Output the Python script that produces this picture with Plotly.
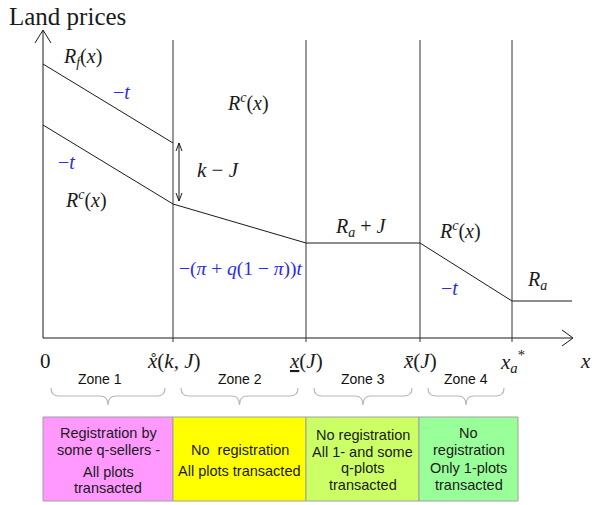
import plotly.graph_objects as go

# Distance from the centre (x) and land price (y), in drawing units
edges = [0, 130, 263, 377, 469]            # 0, x̊(k,J), x̲(J), x̄(J), x*_a
edge_labels = ["0",
               "<i>x\u030a</i>(<i>k</i>, <i>J</i>)",
               "<u><i>x</i></u>(<i>J</i>)",
               "<i>x\u0304</i>(<i>J</i>)",
               "<i>x</i><sub><i>a</i></sub><sup>*</sup>"]
x_max = 530
y_max = 308

# Bid-rent schedules
rf_x = [0, 130]
rf_y = [274, 195]
rc_x = [0, 130, 263, 377, 469, 529]
rc_y = [213, 134, 95, 95, 37, 37]

zone_names = ["Zone 1", "Zone 2", "Zone 3", "Zone 4"]
box_edges = [0, 130, 263, 376, 475]
box_colors = ["#FF99FF", "#FFFF00", "#CCFF66", "#99FF99"]
box_lines = [
    ["Registration by", "some q-sellers -", "All plots", "transacted"],
    ["No  registration", "All plots transacted"],
    ["No registration", "All 1- and some", "q-plots", "transacted"],
    ["No", "registration", "Only 1-plots", "transacted"],
]

SERIF = "Liberation Serif"
SANS = "Liberation Sans"
INK = "#1a1a1a"
BLUE = "#2a2af0"

fig = go.Figure()

# price schedules
fig.add_trace(go.Scatter(x=rf_x, y=rf_y, mode="lines",
                         line=dict(color=INK, width=1), hoverinfo="skip"))
fig.add_trace(go.Scatter(x=rc_x, y=rc_y, mode="lines",
                         line=dict(color=INK, width=1), hoverinfo="skip"))

shapes = []


def seg(x0, y0, x1, y1, color=INK, width=1):
    shapes.append(dict(type="line", xref="x", yref="y", x0=x0, y0=y0,
                       x1=x1, y1=y1, line=dict(color=color, width=width)))


# axes with open arrowheads
seg(0, 0, 0, y_max)
seg(0, y_max, -8, y_max - 13)
seg(0, y_max, 8, y_max - 13)
seg(0, 0, x_max, 0)
seg(x_max, 0, x_max - 11, 8)
seg(x_max, 0, x_max - 11, -8)

# zone boundaries
for e in edges[1:]:
    seg(e, -4, e, 298, color="#333333")

# k - J gap arrow
ax = rf_x[1] + 6
seg(ax, rf_y[1], ax, rc_y[1] + 3)
seg(ax, rf_y[1], ax - 3, rf_y[1] - 8)
seg(ax, rf_y[1], ax + 3, rf_y[1] - 8)
seg(ax, rc_y[1] + 3, ax - 3, rc_y[1] + 11)
seg(ax, rc_y[1] + 3, ax + 3, rc_y[1] + 11)

# braces under each zone
top, arm, tip, r = -50, -58, -67, 8
for i in range(4):
    L, R = edges[i] + 8, edges[i + 1] - 8
    M = (edges[i] + edges[i + 1]) / 2
    path = (f"M{L},{top} Q{L},{arm} {L + r},{arm} L{M - r},{arm} "
            f"Q{M},{arm} {M},{tip} Q{M},{arm} {M + r},{arm} "
            f"L{R - r},{arm} Q{R},{arm} {R},{top}")
    shapes.append(dict(type="path", xref="x", yref="y", path=path,
                       line=dict(color="#b8b8b8", width=1.2)))

# coloured regime boxes
for i in range(4):
    shapes.append(dict(type="rect", xref="x", yref="y",
                       x0=box_edges[i], x1=box_edges[i + 1], y0=-79, y1=-163,
                       fillcolor=box_colors[i],
                       line=dict(color="#a0a0a0", width=1), layer="below"))

ann = []


def label(x, y, text, size=20, color=INK, family=SERIF, xanchor="center"):
    ann.append(dict(x=x, y=y, xref="x", yref="y", text=text, showarrow=False,
                    font=dict(family=family, size=size, color=color),
                    xanchor=xanchor, yanchor="middle"))


label(-36, 322, "Land prices", size=25, xanchor="left")
label(39, 281, "<i>R</i><sub><i>f</i></sub>(<i>x</i>)", size=20)
label(78, 246, "\u2212<i>t</i>", size=20, color=BLUE)
label(23, 176, "\u2212<i>t</i>", size=20, color=BLUE)
label(43, 139, "<i>R</i><sup><i>c</i></sup>(<i>x</i>)", size=20)
label(205, 236, "<i>R</i><sup><i>c</i></sup>(<i>x</i>)", size=20)
label(175, 168, "<i>k</i> \u2212 <i>J</i>", size=21)
label(198, 69, "\u2212(<i>\u03c0</i> + <i>q</i>(1 \u2212 <i>\u03c0</i>))<i>t</i>",
      size=19.5, color=BLUE)
label(318, 111, "<i>R</i><sub><i>a</i></sub> + <i>J</i>", size=20)
label(417, 108, "<i>R</i><sup><i>c</i></sup>(<i>x</i>)", size=20)
label(406, 50, "\u2212<i>t</i>", size=20, color=BLUE)
label(494, 58, "<i>R</i><sub><i>a</i></sub>", size=20)

# tick labels along the distance axis
for e, t in zip(edges, edge_labels):
    label(e + (2 if e == 0 else 0), -23, t, size=21)
label(542, -23, "<i>x</i>", size=21)

# zone captions
for i, z in enumerate(zone_names):
    label((edges[i] + edges[i + 1]) / 2 - (8 if i == 0 else 0), -41, z,
          size=14, family=SANS, color="#111")

# box texts, one annotation per line
line_y = [
    [-95, -112, -134, -150],
    [-112, -133],
    [-97, -114, -130, -147],
    [-95, -112, -130, -147],
]
for i, lines in enumerate(box_lines):
    cx = (box_edges[i] + box_edges[i + 1]) / 2
    for txt, yy in zip(lines, line_y[i]):
        label(cx, yy, txt, size=14.5, family=SANS, color="#1a1a1a")

fig.update_layout(
    width=597, height=505, autosize=False,
    margin=dict(l=0, r=0, t=0, b=0, pad=0),
    paper_bgcolor="white", plot_bgcolor="white",
    showlegend=False,
    xaxis=dict(range=[-43, 554], visible=False, fixedrange=True),
    yaxis=dict(range=[-167, 338], visible=False, fixedrange=True),
    shapes=shapes, annotations=ann,
)

fig.write_html("out.html")
